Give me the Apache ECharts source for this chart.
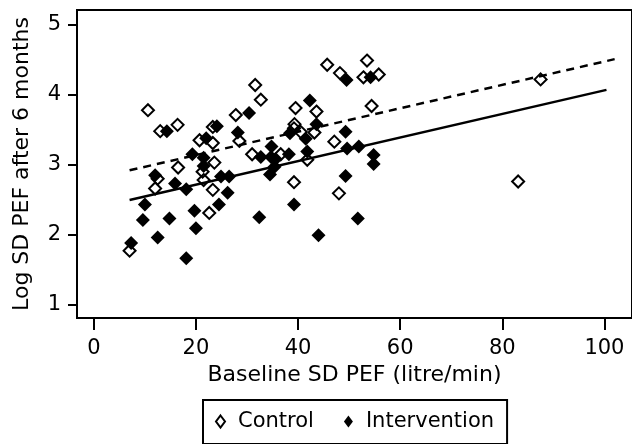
<!DOCTYPE html>
<html>
<head>
<meta charset="utf-8">
<script src="https://cdn.jsdelivr.net/npm/echarts@6/dist/echarts.min.js"></script>
<style>
  html, body { margin: 0; padding: 0; background: #fff; }
  #chart { width: 632px; height: 444px; }
</style>
</head>
<body>
<div id="chart"></div>
<script>
// baseline SD PEF vs log SD PEF after 6 months
const controlPoints = [
  [10.6, 3.78], [13.0, 3.48], [16.4, 3.57], [16.5, 2.96], [12.5, 2.80],
  [12.0, 2.66], [7.0, 1.77], [22.6, 2.31], [23.3, 3.54], [20.7, 3.35],
  [23.3, 3.31], [23.6, 3.03], [21.3, 2.90], [21.5, 2.78], [23.3, 2.64],
  [28.5, 3.34], [27.8, 3.71], [31.6, 4.14], [32.7, 3.93], [31.0, 3.15],
  [36.6, 3.15], [39.2, 2.75], [39.5, 3.81], [39.3, 3.58], [39.2, 3.52],
  [40.5, 3.47], [43.6, 3.76], [43.2, 3.46], [41.8, 3.07], [47.1, 3.33],
  [48.0, 2.59], [45.7, 4.43], [48.2, 4.31], [53.5, 4.49], [52.8, 4.25],
  [55.8, 4.29], [54.4, 3.84], [83.1, 2.76], [87.5, 4.22]
];

const interventionPoints = [
  [14.3, 3.48], [12.0, 2.85], [15.9, 2.73], [18.1, 2.65], [10.0, 2.43],
  [9.6, 2.21], [14.8, 2.23], [12.5, 1.96], [7.3, 1.88], [18.1, 1.66],
  [19.7, 2.34], [20.0, 2.09], [24.1, 3.55], [22.0, 3.38], [19.3, 3.15],
  [21.5, 3.10], [21.5, 2.98], [24.9, 2.83], [26.5, 2.83], [26.2, 2.60],
  [24.5, 2.43], [28.2, 3.46], [30.4, 3.74], [32.7, 3.11], [34.8, 3.26],
  [34.7, 3.11], [35.6, 3.08], [35.4, 2.97], [34.5, 2.86], [38.2, 3.15],
  [39.2, 2.43], [32.4, 2.25], [44.0, 1.99], [38.4, 3.45], [42.3, 3.92],
  [43.6, 3.58], [41.5, 3.37], [41.8, 3.19], [49.3, 3.47], [49.6, 3.23],
  [49.3, 2.84], [49.5, 4.21], [51.7, 2.23], [54.2, 4.25], [51.9, 3.26],
  [54.8, 3.14], [54.8, 3.01]
];

// fitted lines, end points
const controlFit = [[7, 2.92], [102, 4.51]];
const interventionFit = [[7, 2.495], [100.4, 4.07]];

const xTicks = [0, 20, 40, 60, 80, 100];
const yTicks = [1, 2, 3, 4, 5];

const font = "DejaVu Sans";

const option = {
  animation: false,
  grid: {
    left: 77,
    top: 10,
    right: -2,
    bottom: 126,
    show: true,
    borderColor: "#000",
    borderWidth: 2,
  },
  legend: {
    data: ["Control", "Intervention"],
    left: 203,
    top: 400,
    padding: [11, 13, 12, 12],
    borderColor: "#000",
    borderWidth: 2,
    itemWidth: 9,
    itemHeight: 12,
    itemGap: 30,
    textStyle: {
      color: "#000",
      fontFamily: font,
      fontSize: 21,
      padding: [0, 0, 0, 8],
    },
  },
  xAxis: {
    type: "value",
    min: -3.3,
    max: 105.4,
    name: "Baseline SD PEF (litre/min)",
    nameLocation: "middle",
    nameGap: 39,
    nameTextStyle: { color: "#000", fontFamily: font, fontSize: 22 },
    axisLine: { onZero: false, lineStyle: { color: "#000", width: 2 } },
    axisTick: { show: true, length: 12, lineStyle: { color: "#000", width: 2 }, customValues: xTicks },
    axisLabel: { color: "#000", fontFamily: font, fontSize: 21, margin: 20, customValues: xTicks },
    splitLine: { show: false },
  },
  yAxis: {
    type: "value",
    min: 0.807,
    max: 5.213,
    name: "Log SD PEF after 6 months",
    nameLocation: "middle",
    nameGap: 44,
    nameTextStyle: { color: "#000", fontFamily: font, fontSize: 22 },
    axisLine: { show: true, onZero: false, lineStyle: { color: "#000", width: 2 } },
    axisTick: { show: true, length: 9, lineStyle: { color: "#000", width: 2 }, customValues: yTicks },
    axisLabel: { color: "#000", fontFamily: font, fontSize: 21, margin: 16, customValues: yTicks },
    splitLine: { show: false },
  },
  series: [
    {
      name: "Control",
      type: "scatter",
      data: controlPoints,
      symbol: "diamond",
      symbolSize: 12,
      itemStyle: { color: "rgba(255,255,255,0)", borderColor: "#000", borderWidth: 2, opacity: 1 },
      z: 3,
    },
    {
      name: "Intervention",
      type: "scatter",
      data: interventionPoints,
      symbol: "diamond",
      symbolSize: 14,
      itemStyle: { color: "#000", opacity: 1 },
      z: 3,
    },
    {
      name: "Control fit",
      type: "line",
      data: controlFit,
      showSymbol: false,
      lineStyle: { color: "#000", width: 2.5, type: [8, 6] },
      z: 2,
    },
    {
      name: "Intervention fit",
      type: "line",
      data: interventionFit,
      showSymbol: false,
      lineStyle: { color: "#000", width: 2.5 },
      z: 2,
    },
  ],
};

const myChart = echarts.init(document.getElementById("chart"));
myChart.setOption(option);
</script>
</body>
</html>
